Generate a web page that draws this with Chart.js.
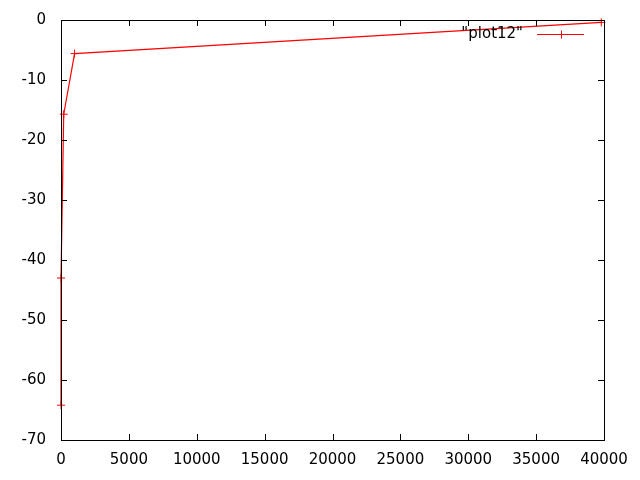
<!DOCTYPE html>
<html>
<head>
<meta charset="utf-8">
<script src="https://cdn.jsdelivr.net/npm/chart.js@4"></script>
<style>
  body { margin: 0; background: #fff; }
</style>
</head>
<body>
<canvas id="myChart" width="640" height="480"></canvas>
<script>
// data
const seriesName = '"plot12"';
const xValues = [0, 0, 200, 1000, 39800];
const yValues = [-64.2, -43, -15.7, -5.6, -0.4];
const xTicks = [0, 5000, 10000, 15000, 20000, 25000, 30000, 35000, 40000];
const yTicks = [0, -10, -20, -30, -40, -50, -60, -70];

const fontSpec = { family: "DejaVu Sans", size: 15 };

// gnuplot style box + inward ticks on all four sides
const frame = {
  id: "frame",
  afterDatasetsDraw(chart) {
    const ctx = chart.ctx;
    const a = chart.chartArea;
    const xs = chart.scales.x;
    const ys = chart.scales.y;
    const len = 6;
    ctx.save();
    ctx.strokeStyle = "#000";
    ctx.lineWidth = 1;
    ctx.beginPath();
    for (const v of xTicks) {
      const px = Math.round(xs.getPixelForValue(v)) + 0.5;
      ctx.moveTo(px, a.bottom);
      ctx.lineTo(px, a.bottom - len);
      ctx.moveTo(px, a.top);
      ctx.lineTo(px, a.top + len);
    }
    for (const v of yTicks) {
      const py = Math.round(ys.getPixelForValue(v)) + 0.5;
      ctx.moveTo(a.left, py);
      ctx.lineTo(a.left + len, py);
      ctx.moveTo(a.right, py);
      ctx.lineTo(a.right - len, py);
    }
    ctx.stroke();
    ctx.strokeRect(Math.round(a.left) + 0.5, Math.round(a.top) + 0.5,
      Math.round(a.right - a.left), Math.round(a.bottom - a.top));

    // key, top right inside the box
    const ky = Math.round(a.top + 14) + 0.5;
    const sx2 = a.right - 20;
    const sx1 = sx2 - 47;
    ctx.strokeStyle = "#ff0000";
    ctx.beginPath();
    ctx.moveTo(sx1, ky);
    ctx.lineTo(sx2, ky);
    const cx = Math.round((sx1 + sx2) / 2) + 0.5;
    ctx.moveTo(cx, ky - 4);
    ctx.lineTo(cx, ky + 4);
    ctx.stroke();
    ctx.fillStyle = "#000";
    ctx.font = fontSpec.size + "px " + fontSpec.family;
    ctx.textAlign = "right";
    ctx.textBaseline = "middle";
    ctx.fillText(chart.data.datasets[0].label, sx1 - 14, ky);
    ctx.restore();
  },
};

const ctx = document.getElementById("myChart").getContext("2d");

const myChart = new Chart(ctx, {
  type: "scatter",
  data: {
    datasets: [
      {
        label: seriesName,
        data: xValues.map((x, i) => ({ x: x, y: yValues[i] })),
        showLine: true,
        borderColor: "#ff0000",
        backgroundColor: "#ff0000",
        borderWidth: 1.2,
        pointStyle: "cross",
        pointRadius: 4,
        pointBorderWidth: 1,
        pointHoverRadius: 4,
        tension: 0,
        clip: false,
      },
    ],
  },
  options: {
    responsive: false,
    animation: false,
    events: [],
    layout: { padding: { top: 20, right: 36, left: 0, bottom: 0 } },
    plugins: {
      legend: { display: false },
      tooltip: { enabled: false },
    },
    scales: {
      x: {
        type: "linear",
        min: 0,
        max: 40000,
        afterBuildTicks: (s) => { s.ticks = xTicks.map((v) => ({ value: v })); },
        afterFit: (s) => {
          s.height = 40;
          s.paddingLeft = 0;
          s.paddingRight = 0;
        },
        grid: { display: false, drawTicks: false },
        border: { display: false },
        ticks: {
          color: "#000",
          font: fontSpec,
          padding: 11,
          maxRotation: 0,
          autoSkip: false,
          callback: (v) => String(v),
        },
      },
      y: {
        type: "linear",
        min: -70,
        max: 0,
        afterBuildTicks: (s) => { s.ticks = yTicks.map((v) => ({ value: v })); },
        afterFit: (s) => {
          s.width = 61;
          s.paddingTop = 0;
          s.paddingBottom = 0;
        },
        grid: { display: false, drawTicks: false },
        border: { display: false },
        ticks: {
          color: "#000",
          font: fontSpec,
          padding: 15,
          autoSkip: false,
          callback: (v) => String(v),
        },
      },
    },
  },
  plugins: [frame],
});
</script>
</body>
</html>
